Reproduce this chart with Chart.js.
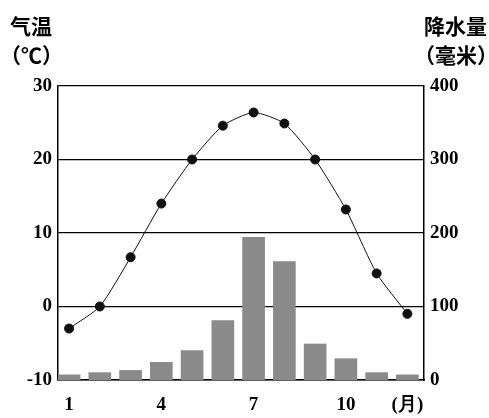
<!DOCTYPE html>
<html>
<head>
<meta charset="utf-8">
<script src="https://cdn.jsdelivr.net/npm/chart.js@4"></script>
<style>
  html, body { margin: 0; padding: 0; background: #fff; }
  #wrap { width: 489px; height: 418px; }
</style>
</head>
<body>
<div id="wrap"><canvas id="climateChart"></canvas></div>
<script>
const months = [1, 2, 3, 4, 5, 6, 7, 8, 9, 10, 11, 12];
const temperature = [-3, 0, 6.7, 14, 20, 24.6, 26.4, 24.9, 20, 13.2, 4.5, -1];
const precipitation = [7, 10, 13, 24, 40, 81, 194, 161, 49, 29, 10, 7];
const monthTicks = [1, 4, 7, 10, 12];
const tempTicks = [-10, 0, 10, 20, 30];
const rainTicks = [0, 100, 200, 300, 400];

const numFont = { family: '"Liberation Serif", "DejaVu Serif", serif', size: 19, weight: 'bold' };
const cjkFont = '"Noto Sans CJK SC", sans-serif';

const titlePlugin = {
  id: 'titles',
  afterDraw(chart) {
    const c = chart.ctx;
    c.save();
    c.fillStyle = '#000';
    c.textBaseline = 'middle';
    c.font = 'bold 21px ' + cjkFont;
    c.textAlign = 'left';
    c.fillText('气温', 10, 26);
    c.fillText('（℃）', 0, 55);
    c.textAlign = 'right';
    c.fillText('降水量', 487, 26);
    c.fillText('（毫米）', 498, 55);
    c.restore();
  }
};

const ctx = document.getElementById('climateChart').getContext('2d');
new Chart(ctx, {
  type: 'bar',
  data: {
    datasets: [
      {
        type: 'line',
        label: '气温',
        data: months.map((m, i) => ({ x: m, y: temperature[i] })),
        yAxisID: 'y',
        borderColor: '#111',
        borderWidth: 1,
        backgroundColor: '#111',
        pointRadius: 4.5,
        pointBackgroundColor: '#111',
        tension: 0.2,
        order: 0
      },
      {
        label: '降水量',
        data: months.map((m, i) => ({ x: m, y: precipitation[i] })),
        yAxisID: 'y1',
        backgroundColor: '#8a8a8a',
        barThickness: 22,
        order: 1
      }
    ]
  },
  options: {
    responsive: true,
    maintainAspectRatio: false,
    animation: false,
    layout: { padding: { top: 86, left: 0, right: 0, bottom: 0 } },
    plugins: {
      legend: { display: false },
      tooltip: { enabled: false }
    },
    scales: {
      x: {
        type: 'linear',
        offset: false,
        min: 0.64,
        max: 12.54,
        afterBuildTicks: axis => { axis.ticks = monthTicks.map(v => ({ value: v })); },
        afterFit: axis => { axis.height = 38; },
        grid: { display: false },
        border: { color: '#000', width: 1.5 },
        ticks: {
          color: '#000',
          font: numFont,
          padding: 6,
          maxRotation: 0,
          autoSkip: false,
          callback: v => v === 12 ? '(月)' : v
        }
      },
      y: {
        position: 'left',
        min: -10,
        max: 30,
        afterBuildTicks: axis => { axis.ticks = tempTicks.map(v => ({ value: v })); },
        afterFit: axis => { axis.width = 58; },
        grid: { color: '#000', lineWidth: 1.3, drawTicks: false },
        border: { color: '#000', width: 1.5 },
        ticks: { color: '#000', font: numFont, padding: 6 }
      },
      y1: {
        position: 'right',
        min: 0,
        max: 400,
        afterBuildTicks: axis => { axis.ticks = rainTicks.map(v => ({ value: v })); },
        afterFit: axis => { axis.width = 65; },
        grid: { display: false, drawTicks: false },
        border: { color: '#000', width: 1.5 },
        ticks: { color: '#000', font: numFont, padding: 6 }
      }
    }
  },
  plugins: [titlePlugin]
});
</script>
</body>
</html>
